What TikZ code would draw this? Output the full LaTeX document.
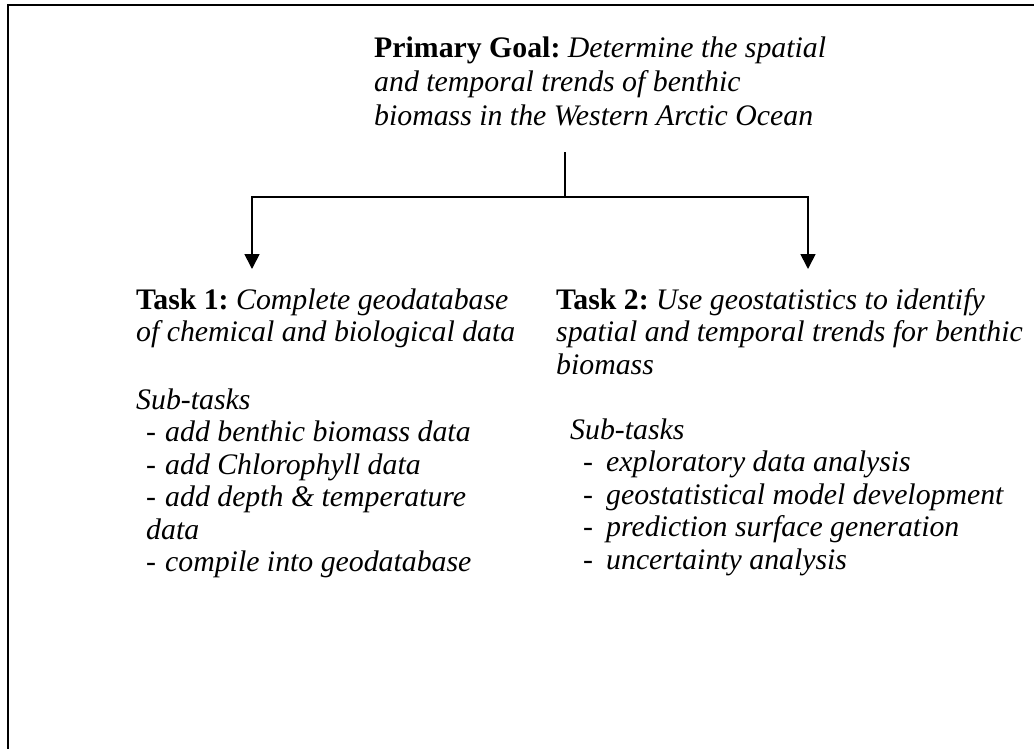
\documentclass[tikz,border=0pt]{standalone}
\usepackage{fontspec}
\setmainfont{Liberation Serif}
\usetikzlibrary{arrows.meta}
\frenchspacing
\begin{document}
\begin{tikzpicture}[x=1pt,y=-1pt,
  txt/.style={inner sep=0pt, anchor=base west, font=\fontsize{29.8}{33}\selectfont},
  conn/.style={line width=1.7pt, draw=black},
  arr/.style={conn, -{Triangle[length=15pt,width=15pt]}},
  frame/.style={line width=1.8pt, draw=black}]
\useasboundingbox (0,0) rectangle (1034,748);
% frame (only top and left edges visible)
\coordinate (fr1) at (1040,5);
\coordinate (fr2) at (8,5);
\coordinate (fr3) at (8,756);
\draw[frame] (fr1) -- (fr2) -- (fr3);

% primary goal
\node[txt] (p1) at (374,57) {\textbf{Primary Goal:} \textit{Determine the spatial}};
\node[txt] (p2) at (374,91) {\textit{and temporal trends of benthic}};
\node[txt] (p3) at (374,125) {\textit{biomass in the Western Arctic Ocean}};

% connectors
\coordinate (vtop) at (565,152);
\coordinate (junc) at (565,197);
\coordinate (lcorner) at (252,197);
\coordinate (rcorner) at (808,197);
\coordinate (ltip) at (252,269);
\coordinate (rtip) at (808,269);
\draw[conn] (vtop) -- (junc);
\draw[arr] (junc) -- (lcorner) -- (ltip);
\draw[arr] (junc) -- (rcorner) -- (rtip);

% task 1
\node[txt] (a1) at (136,309) {\textbf{Task 1:} \textit{Complete geodatabase}};
\node[txt] (a2) at (136,341.5) {\textit{of chemical and biological data}};
\node[txt] (a3) at (136,409) {\textit{Sub-tasks}};
\node[txt] (a4) at (146,441.5) {\makebox[19pt][l]{-}\textit{add benthic biomass data}};
\node[txt] (a5) at (146,474) {\makebox[19pt][l]{-}\textit{add Chlorophyll data}};
\node[txt] (a6) at (146,506.5) {\makebox[19pt][l]{-}\textit{add depth \& temperature}};
\node[txt] (a7) at (146,539) {\textit{data}};
\node[txt] (a8) at (146,571.5) {\makebox[19pt][l]{-}\textit{compile into geodatabase}};

% task 2
\node[txt] (b1) at (556,309) {\textbf{Task 2:} \textit{Use geostatistics to identify}};
\node[txt] (b2) at (556,341.5) {\textit{spatial and temporal trends for benthic}};
\node[txt] (b3) at (556,374) {\textit{biomass}};
\node[txt] (b4) at (570,439) {\textit{Sub-tasks}};
\node[txt] (b5) at (583,471.5) {\makebox[23pt][l]{-}\textit{exploratory data analysis}};
\node[txt] (b6) at (583,504) {\makebox[23pt][l]{-}\textit{geostatistical model development}};
\node[txt] (b7) at (583,536.5) {\makebox[23pt][l]{-}\textit{prediction surface generation}};
\node[txt] (b8) at (583,569) {\makebox[23pt][l]{-}\textit{uncertainty analysis}};
\end{tikzpicture}
\end{document}
